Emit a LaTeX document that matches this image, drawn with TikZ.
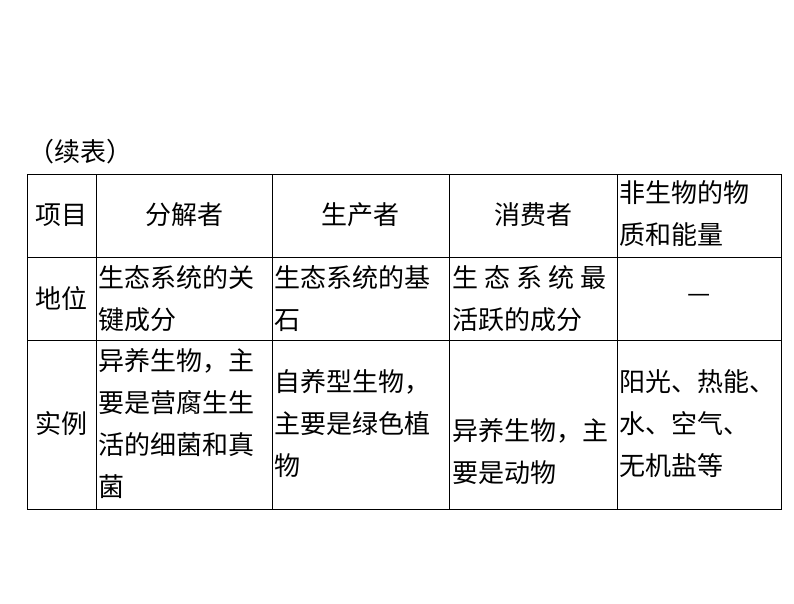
\documentclass[tikz,border=0pt]{standalone}
\usepackage{fontspec}
\setmainfont{Noto Sans CJK SC}
\begin{document}
\begin{tikzpicture}[x=1pt,y=-1pt,
  tx/.style={inner sep=0pt,align=left,anchor=west,font=\fontsize{26}{42}\selectfont},
  tc/.style={inner sep=0pt,align=center,font=\fontsize{26}{42}\selectfont},
  grid/.style={line width=1pt,black}]
\useasboundingbox (0,0) rectangle (794,603);
\node[tc,anchor=west] (title) at (28,152) {（续表）};
\draw[grid] (27,174) rectangle (781,509);
\foreach \y in {257,340} \draw[grid] (27,\y) -- (781,\y);
\foreach \x in {96,272,449,617} \draw[grid] (\x,174) -- (\x,509);
% header row
\node[tc] (h1) at (61,215) {项目};
\node[tc] (h2) at (184,215) {分解者};
\node[tc] (h3) at (360,215) {生产者};
\node[tc] (h4) at (533,215) {消费者};
\node[tx] (h5) at (619,214) {非生物的物\\质和能量};
% row 2
\node[tc] (r1) at (61,298) {地位};
\node[tx] (r12) at (98,299) {生态系统的关\\键成分};
\node[tx] (r13) at (274,299) {生态系统的基\\石};
\node[tx] (r14) at (452,299) {生\hspace{6pt}态\hspace{6pt}系\hspace{6pt}统\hspace{6pt}最\\活跃的成分};
\node[tc] (r15) at (699,298) {—};
% row 3
\node[tc] (s1) at (61,424) {实例};
\node[tx] (s12) at (98,424) {异养生物，主\\要是营腐生生\\活的细菌和真\\菌};
\node[tx] (s13) at (274,424) {自养型生物，\\主要是绿色植\\物};
\node[tx] (s14) at (452,452) {异养生物，主\\要是动物};
\node[tx] (s15) at (619,424) {阳光、热能、\\水、空气、\\无机盐等};
\end{tikzpicture}
\end{document}
